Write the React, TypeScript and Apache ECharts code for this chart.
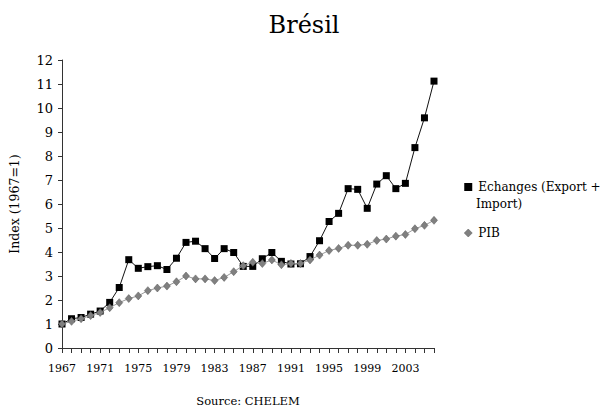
import React, { useEffect, useRef } from "react";
import * as echarts from "echarts";

const years: string[] = [
  "1967", "1968", "1969", "1970", "1971", "1972", "1973", "1974", "1975", "1976",
  "1977", "1978", "1979", "1980", "1981", "1982", "1983", "1984", "1985", "1986",
  "1987", "1988", "1989", "1990", "1991", "1992", "1993", "1994", "1995", "1996",
  "1997", "1998", "1999", "2000", "2001", "2002", "2003", "2004", "2005", "2006",
];

const echanges: number[] = [
  1.0, 1.22, 1.27, 1.41, 1.54, 1.9, 2.52, 3.68, 3.32, 3.39,
  3.43, 3.27, 3.74, 4.4, 4.45, 4.14, 3.73, 4.14, 3.98, 3.4,
  3.4, 3.72, 3.98, 3.61, 3.5, 3.51, 3.81, 4.47, 5.27, 5.61,
  6.64, 6.61, 5.82, 6.83, 7.18, 6.64, 6.86, 8.35, 9.59, 11.12,
];

const pib: number[] = [
  1.0, 1.11, 1.22, 1.35, 1.48, 1.68, 1.89, 2.06, 2.17, 2.39,
  2.5, 2.58, 2.76, 3.0, 2.88, 2.88, 2.81, 2.94, 3.18, 3.43,
  3.57, 3.52, 3.67, 3.47, 3.52, 3.52, 3.67, 3.87, 4.06, 4.15,
  4.28, 4.28, 4.32, 4.48, 4.54, 4.66, 4.73, 4.97, 5.11, 5.32,
];

const titleText = "Brésil";
const yAxisName = "Index (1967=1)";
const sourceText = "Source: CHELEM";
const seriesNames = ["Echanges (Export +", "PIB"];
const legendContinuation = "Import)";

const FONT = "'DejaVu Serif', 'Liberation Serif', serif";

export default function App() {
  const ref = useRef<HTMLDivElement | null>(null);

  useEffect(() => {
    if (!ref.current) return;
    const chart = echarts.init(ref.current, undefined, { renderer: "svg" });
    chart.setOption({
      animation: false,
      backgroundColor: "#ffffff",
      textStyle: { fontFamily: FONT, color: "#000" },
      title: {
        text: titleText,
        left: "center",
        top: 8,
        textStyle: { fontFamily: FONT, fontSize: 24, fontWeight: "normal", color: "#000" },
      },
      legend: {
        orient: "vertical",
        left: 459,
        top: 176,
        itemWidth: 8,
        itemHeight: 8,
        itemGap: 34,
        textStyle: { fontFamily: FONT, fontSize: 12, color: "#000", padding: [0, 0, 0, 1] },
        data: [
          { name: seriesNames[0], icon: "rect", itemStyle: { color: "#000", borderWidth: 0 } },
          { name: seriesNames[1], icon: "diamond", itemStyle: { color: "#808080", borderColor: "#555", borderWidth: 0.5 } },
        ],
      },
      graphic: [
        {
          type: "text",
          left: 476,
          top: 198,
          style: { text: legendContinuation, font: `12px ${FONT}`, fill: "#000" },
        },
      ],
      grid: { left: 61, right: 174, top: 60, bottom: 59, containLabel: false },
      xAxis: {
        type: "category",
        data: years,
        boundaryGap: false,
        name: sourceText,
        nameLocation: "middle",
        nameGap: 47,
        nameTextStyle: { fontFamily: FONT, fontSize: 11.5, color: "#000" },
        axisLine: { lineStyle: { color: "#333", width: 1 } },
        axisTick: { show: true, interval: 0, length: 5, lineStyle: { color: "#333" } },
        axisLabel: { interval: 3, fontFamily: FONT, fontSize: 11, color: "#000", margin: 15 },
        splitLine: { show: false },
      },
      yAxis: {
        type: "value",
        min: 0,
        max: 12,
        interval: 1,
        name: yAxisName,
        nameLocation: "middle",
        nameGap: 41,
        nameRotate: 90,
        nameTextStyle: { fontFamily: FONT, fontSize: 12.5, color: "#000" },
        axisLine: { show: true, lineStyle: { color: "#333", width: 1 } },
        axisTick: { show: true, length: 4, lineStyle: { color: "#333" } },
        axisLabel: { fontFamily: FONT, fontSize: 13, color: "#000", margin: 9 },
        splitLine: { show: false },
      },
      series: [
        {
          name: seriesNames[0],
          type: "line",
          data: echanges,
          symbol: "rect",
          symbolSize: 7,
          showAllSymbol: true,
          lineStyle: { color: "#111", width: 1 },
          itemStyle: { color: "#000", borderColor: "#000", borderWidth: 0 },
          z: 2,
        },
        {
          name: seriesNames[1],
          type: "line",
          data: pib,
          symbol: "diamond",
          symbolSize: [7, 8],
          showAllSymbol: true,
          lineStyle: { color: "#999", width: 1 },
          itemStyle: { color: "#808080", borderColor: "#555", borderWidth: 0.5 },
          z: 3,
        },
      ],
    });
    return () => chart.dispose();
  }, []);

  return (
    <div
      ref={ref}
      style={{ position: "fixed", left: 0, top: 0, width: 608, height: 412, background: "#fff" }}
    />
  );
}
